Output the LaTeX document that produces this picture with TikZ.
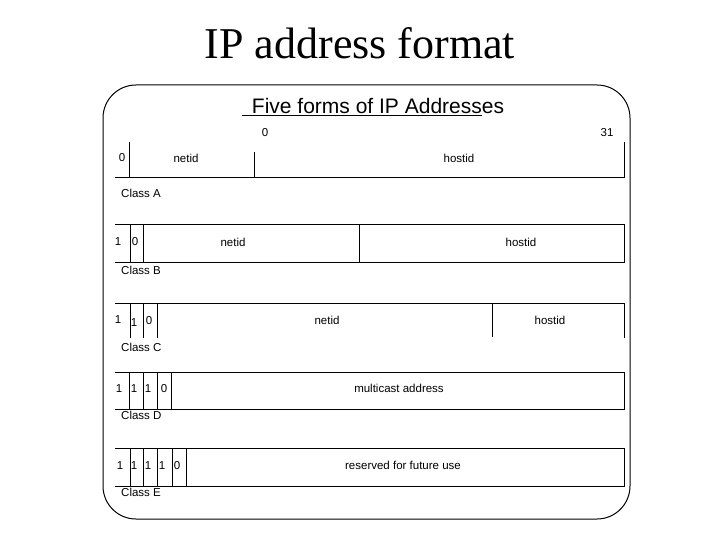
\documentclass[tikz,border=0pt]{standalone}
\usepackage{fontspec}
\setmainfont{Liberation Serif}
\newfontfamily\arialf{Liberation Sans}
\tikzset{
  lbl/.style={inner sep=0pt, font=\arialf\fontsize{11.5}{13}\selectfont},
  cls/.style={lbl, anchor=west},
  ln/.style={line width=1pt},
}
\begin{document}
\begin{tikzpicture}[x=1pt,y=-1pt]
\useasboundingbox (0,0) rectangle (720,540);
% title
\node[inner sep=0pt, font=\fontsize{44}{50}\selectfont] (title) at (360,43) {IP address format};
% frame
\draw[ln, rounded corners=33pt] (103,85) rectangle (630,519);
% subtitle
\node[inner sep=0pt, font=\arialf\fontsize{21}{24}\selectfont] (sub) at (378,106) {Five forms of IP Addresses};
\coordinate (ul1) at (242,116);
\coordinate (ul2) at (482,116);
\draw[line width=1pt] (ul1) -- (ul2);
\node[lbl] (b0) at (265,133) {0};
\node[lbl] (b31) at (607,133) {31};
% Class A
\draw[ln] (115,178) -- (624,178) -- (624,142);
\draw[ln] (129,142) -- (129,178);
\draw[ln] (254,152) -- (254,178);
\node[lbl] (a0) at (122,158) {0};
\node[lbl] (anet) at (186,158) {netid};
\node[lbl] (ahost) at (459,158) {hostid};
\node[cls] (ca) at (121,193) {Class A};
% Class B
\draw[ln] (115,225) -- (624,225) -- (624,262) -- (115,262);
\foreach \x in {130,143,359} \draw[ln] (\x,225) -- (\x,262);
\node[lbl] (bb1) at (118,242) {1};
\node[lbl] (bb2) at (135,242) {0};
\node[lbl] (bnet) at (233,242) {netid};
\node[lbl] (bhost) at (521,242) {hostid};
\node[cls] (cb) at (121,270) {Class B};
% Class C
\draw[ln] (115,303) -- (624,303) -- (624,338);
\foreach \x in {130,143,157} \draw[ln] (\x,303) -- (\x,338);
\draw[ln] (492,303) -- (492,337);
\node[lbl] (cc1) at (118,320) {1};
\node[lbl] (cc2) at (134,323) {1};
\node[lbl] (cc3) at (149,321) {0};
\node[lbl] (cnet) at (327,320) {netid};
\node[lbl] (chost) at (550,320) {hostid};
\node[cls] (cc) at (121,347) {Class C};
% Class D
\draw[ln] (115,372) -- (624,372) -- (624,409) -- (115,409);
\foreach \x in {129,143,157,171} \draw[ln] (\x,372) -- (\x,409);
\node[lbl] (dd1) at (119,389) {1};
\node[lbl] (dd2) at (134,389) {1};
\node[lbl] (dd3) at (148,389) {1};
\node[lbl] (dd4) at (164,389) {0};
\node[lbl] (dm) at (399,388) {multicast address};
\node[cls] (cd) at (121,415) {Class D};
% Class E
\draw[ln] (115,448) -- (624,448) -- (624,486) -- (115,486);
\foreach \x in {130,143,157,172,186} \draw[ln] (\x,448) -- (\x,486);
\node[lbl] (ee1) at (120,466) {1};
\node[lbl] (ee2) at (134,466) {1};
\node[lbl] (ee3) at (148,466) {1};
\node[lbl] (ee4) at (162,466) {1};
\node[lbl] (ee5) at (177,466) {0};
\node[lbl] (er) at (403,465) {reserved for future use};
\node[cls] (ce) at (121,492) {Class E};
\end{tikzpicture}
\end{document}
